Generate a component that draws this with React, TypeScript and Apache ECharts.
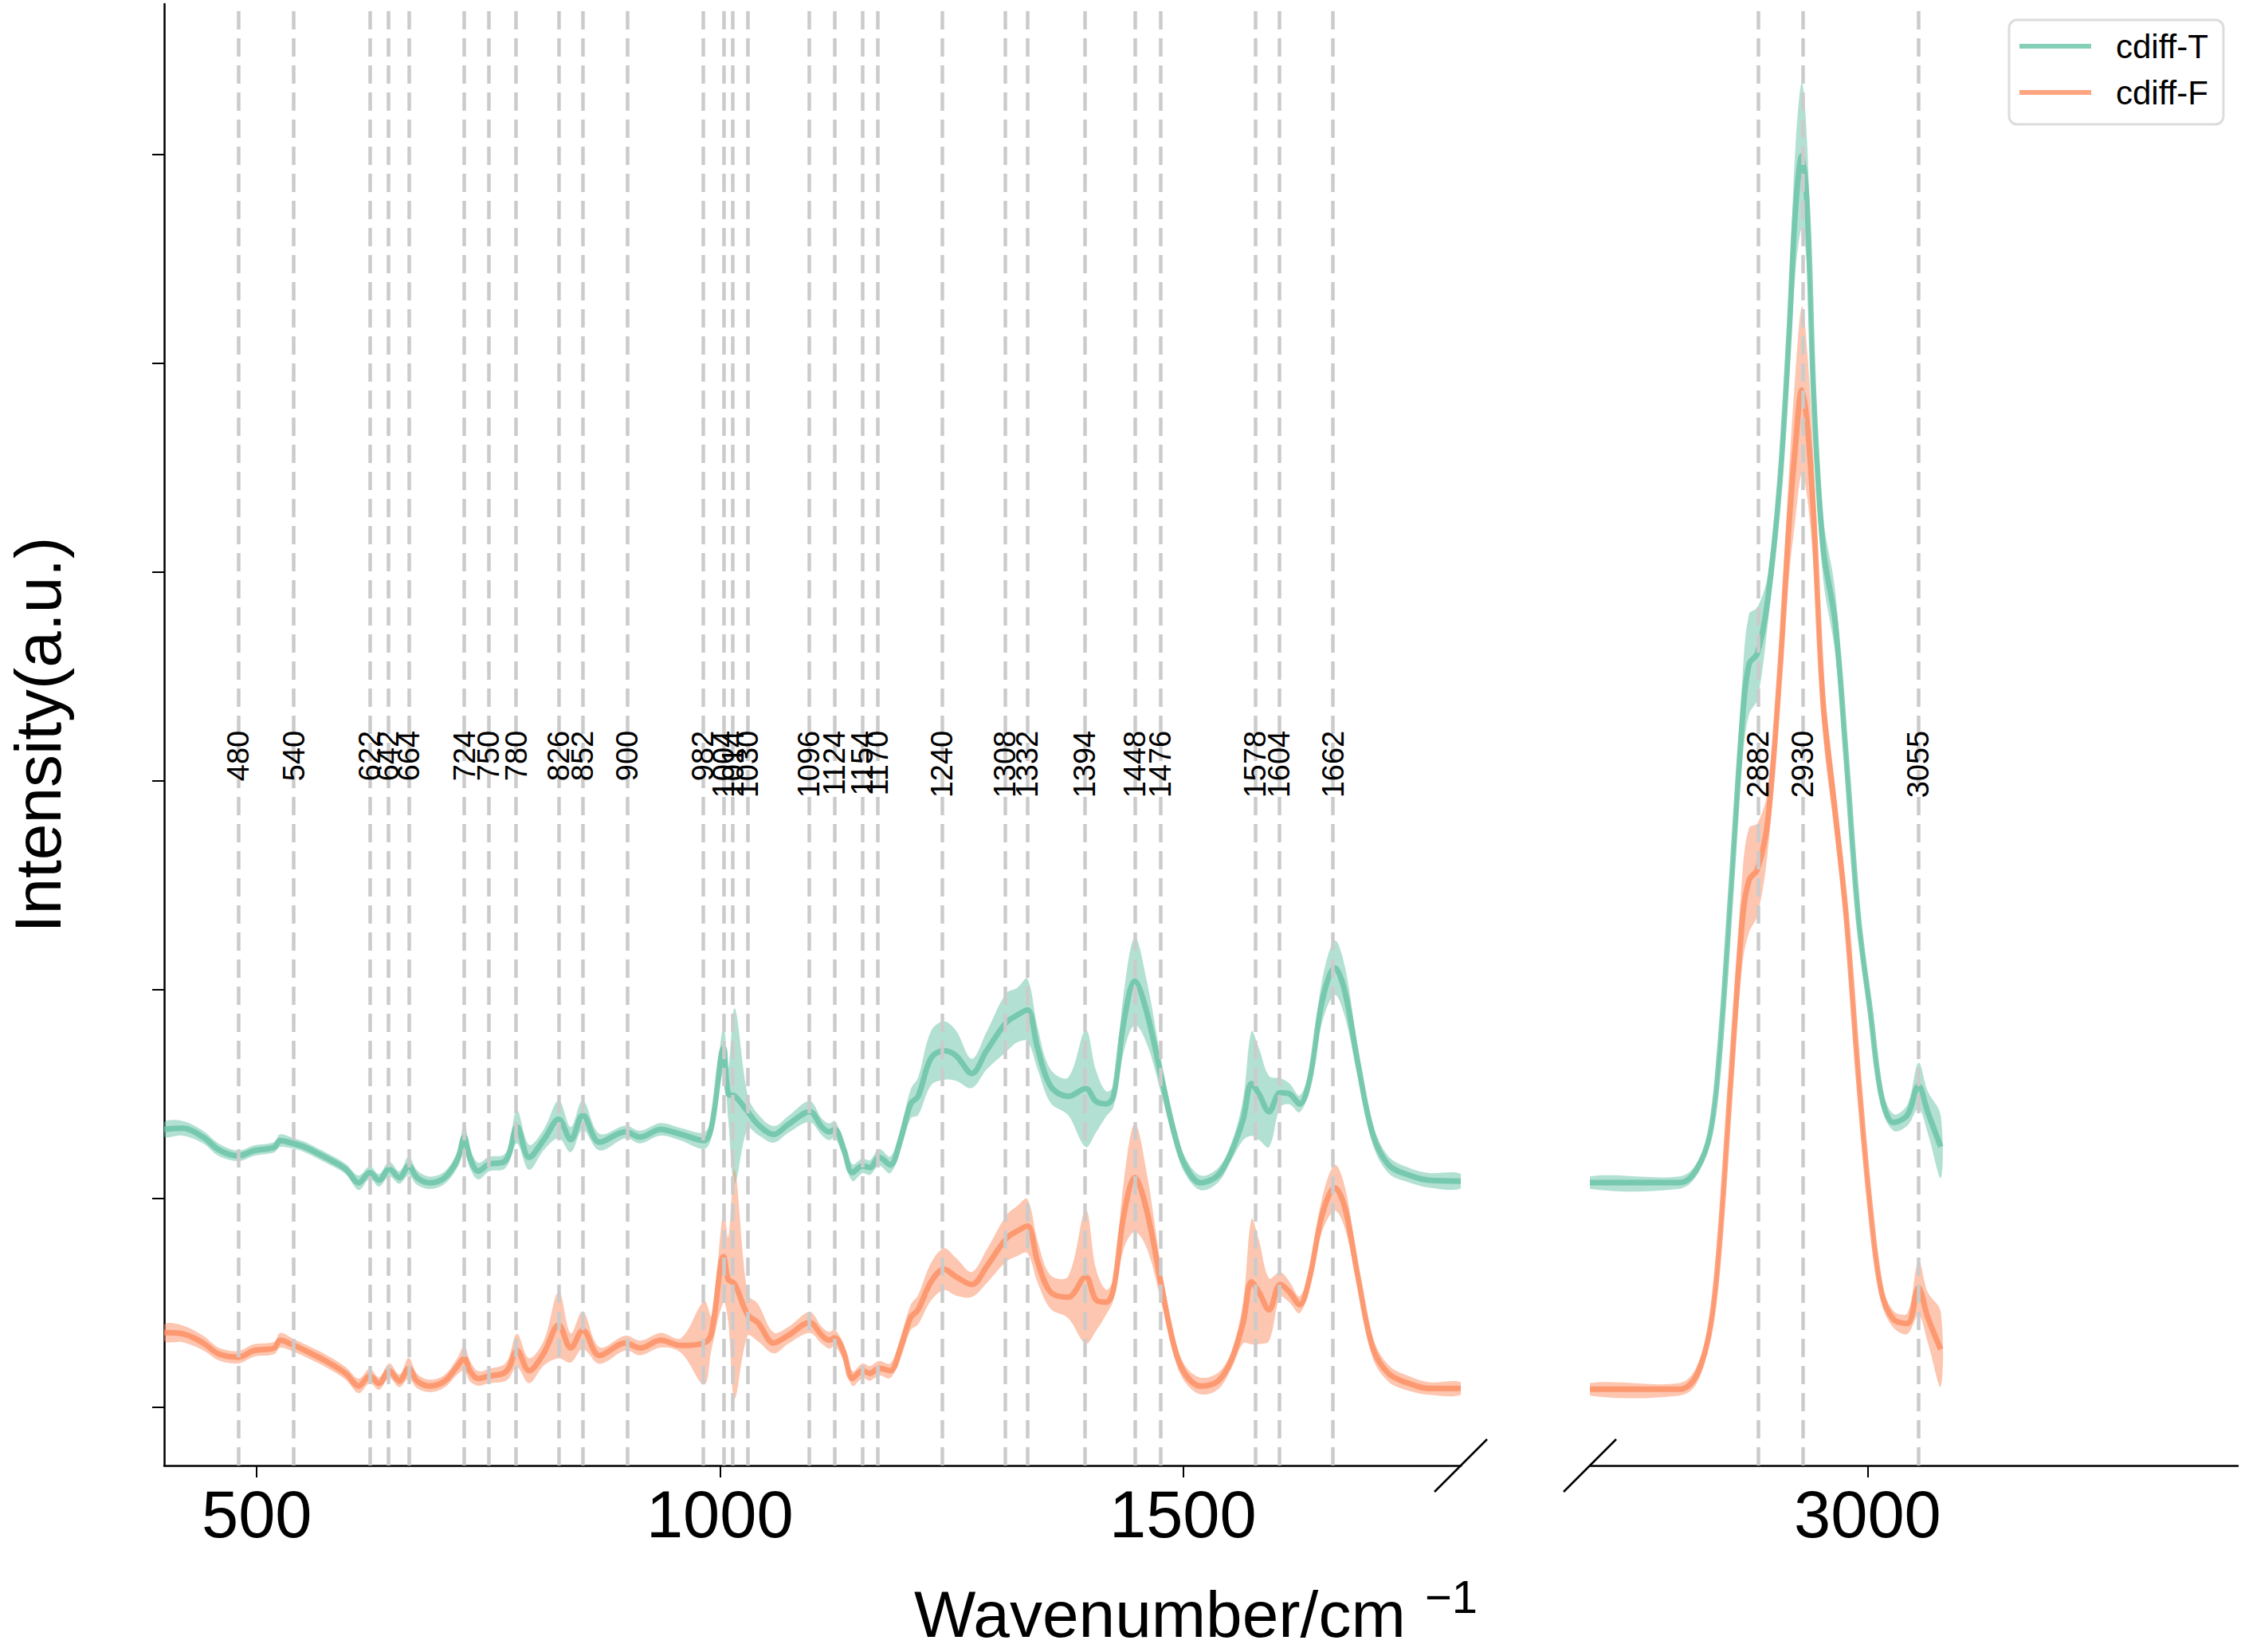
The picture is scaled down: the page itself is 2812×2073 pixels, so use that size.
import React, { useEffect, useRef } from "react";
import * as echarts from "echarts";

// ---------------- data ----------------
const WN_LEFT = [400, 420, 442, 459, 480, 497, 519, 525, 540, 552, 574, 596, 610, 622, 632, 643, 654, 664, 673, 687, 703, 717, 724, 730, 739, 751, 766, 772, 781, 794, 810, 826, 839, 852, 870, 898, 914, 936, 958, 983, 991, 1004, 1009, 1016, 1030, 1041, 1058, 1074, 1097, 1110, 1118, 1124, 1134, 1143, 1154, 1162, 1172, 1184, 1195, 1206, 1214, 1228, 1242, 1255, 1272, 1288, 1309, 1321, 1332, 1343, 1357, 1376, 1395, 1406, 1417, 1425, 1436, 1448, 1461, 1477, 1491, 1502, 1519, 1538, 1552, 1565, 1574, 1582, 1593, 1605, 1615, 1626, 1637, 1650, 1664, 1675, 1689, 1705, 1722, 1744, 1766, 1800];

const T_LEFT = [1.330, 1.335, 1.293, 1.232, 1.203, 1.228, 1.245, 1.276, 1.262, 1.245, 1.196, 1.140, 1.074, 1.123, 1.086, 1.140, 1.099, 1.155, 1.099, 1.074, 1.099, 1.189, 1.293, 1.196, 1.130, 1.164, 1.172, 1.208, 1.342, 1.196, 1.281, 1.378, 1.281, 1.398, 1.269, 1.318, 1.293, 1.330, 1.306, 1.276, 1.342, 1.719, 1.500, 1.490, 1.415, 1.354, 1.306, 1.354, 1.415, 1.342, 1.318, 1.330, 1.232, 1.123, 1.155, 1.147, 1.196, 1.160, 1.281, 1.452, 1.488, 1.671, 1.707, 1.683, 1.598, 1.707, 1.841, 1.877, 1.902, 1.719, 1.537, 1.488, 1.525, 1.464, 1.452, 1.488, 1.841, 2.040, 1.890, 1.573, 1.306, 1.160, 1.074, 1.111, 1.220, 1.378, 1.549, 1.500, 1.415, 1.505, 1.500, 1.452, 1.573, 1.938, 2.104, 1.987, 1.646, 1.306, 1.160, 1.111, 1.086, 1.082];

const T_SD_LEFT = [0.035, 0.035, 0.03, 0.03, 0.025, 0.025, 0.025, 0.03, 0.025, 0.025, 0.025, 0.025, 0.035, 0.03, 0.03, 0.035, 0.03, 0.045, 0.035, 0.03, 0.03, 0.04, 0.07, 0.05, 0.04, 0.035, 0.035, 0.04, 0.08, 0.06, 0.05, 0.09, 0.06, 0.07, 0.04, 0.03, 0.03, 0.03, 0.03, 0.04, 0.05, 0.11, 0.12, 0.42, 0.08, 0.05, 0.04, 0.04, 0.05, 0.04, 0.04, 0.04, 0.04, 0.04, 0.035, 0.035, 0.04, 0.04, 0.05, 0.07, 0.09, 0.13, 0.14, 0.12, 0.07, 0.09, 0.14, 0.13, 0.15, 0.1, 0.08, 0.09, 0.28, 0.15, 0.06, 0.05, 0.14, 0.21, 0.15, 0.08, 0.05, 0.04, 0.035, 0.035, 0.04, 0.1, 0.25, 0.22, 0.17, 0.07, 0.05, 0.04, 0.05, 0.1, 0.13, 0.12, 0.07, 0.05, 0.04, 0.035, 0.035, 0.035];

const F_LEFT = [0.356, 0.351, 0.307, 0.254, 0.239, 0.271, 0.283, 0.320, 0.295, 0.271, 0.222, 0.161, 0.101, 0.149, 0.113, 0.174, 0.125, 0.186, 0.125, 0.101, 0.125, 0.198, 0.234, 0.174, 0.137, 0.149, 0.161, 0.186, 0.271, 0.174, 0.259, 0.393, 0.283, 0.368, 0.247, 0.307, 0.283, 0.320, 0.295, 0.307, 0.356, 0.721, 0.612, 0.590, 0.442, 0.405, 0.307, 0.344, 0.405, 0.344, 0.320, 0.332, 0.259, 0.137, 0.174, 0.161, 0.186, 0.174, 0.283, 0.429, 0.466, 0.600, 0.660, 0.624, 0.587, 0.673, 0.806, 0.843, 0.867, 0.697, 0.551, 0.526, 0.624, 0.514, 0.502, 0.563, 0.916, 1.099, 0.940, 0.575, 0.283, 0.161, 0.101, 0.125, 0.222, 0.405, 0.600, 0.551, 0.466, 0.587, 0.551, 0.490, 0.624, 0.916, 1.050, 0.953, 0.624, 0.283, 0.161, 0.113, 0.089, 0.089];

const F_SD_LEFT = [0.04, 0.04, 0.035, 0.03, 0.03, 0.03, 0.03, 0.035, 0.03, 0.03, 0.03, 0.03, 0.035, 0.035, 0.03, 0.035, 0.03, 0.05, 0.035, 0.03, 0.03, 0.04, 0.06, 0.05, 0.035, 0.035, 0.04, 0.05, 0.08, 0.06, 0.06, 0.16, 0.07, 0.09, 0.04, 0.035, 0.035, 0.035, 0.035, 0.2, 0.08, 0.22, 0.2, 0.55, 0.1, 0.09, 0.05, 0.04, 0.05, 0.04, 0.04, 0.04, 0.04, 0.035, 0.035, 0.035, 0.035, 0.035, 0.05, 0.06, 0.07, 0.09, 0.1, 0.09, 0.06, 0.08, 0.11, 0.12, 0.13, 0.1, 0.08, 0.1, 0.32, 0.15, 0.06, 0.05, 0.16, 0.26, 0.18, 0.08, 0.05, 0.04, 0.04, 0.04, 0.04, 0.1, 0.3, 0.25, 0.15, 0.06, 0.05, 0.04, 0.05, 0.08, 0.11, 0.1, 0.06, 0.05, 0.04, 0.035, 0.03, 0.03];

const WN_RIGHT = [2700, 2797, 2815, 2830, 2840, 2852, 2865, 2872, 2881, 2892, 2905, 2915, 2922, 2929, 2935, 2942, 2952, 2965, 2977, 2990, 3003, 3015, 3028, 3043, 3055, 3065, 3079];
const T_RIGHT = [1.075, 1.075, 1.136, 1.312, 1.691, 2.448, 3.307, 3.559, 3.610, 3.862, 4.417, 5.124, 5.730, 5.993, 5.730, 4.821, 4.115, 3.761, 3.105, 2.347, 1.893, 1.489, 1.363, 1.398, 1.539, 1.413, 1.247];
const T_SD_RIGHT = [0.03, 0.03, 0.03, 0.04, 0.06, 0.1, 0.2, 0.24, 0.22, 0.12, 0.12, 0.2, 0.3, 0.35, 0.3, 0.2, 0.15, 0.15, 0.1, 0.07, 0.06, 0.05, 0.04, 0.05, 0.11, 0.1, 0.15];
const F_RIGHT = [0.085, 0.085, 0.15, 0.38, 0.78, 1.55, 2.347, 2.524, 2.575, 2.802, 3.509, 4.22, 4.6, 4.872, 4.70, 4.25, 3.37, 2.85, 2.347, 1.590, 0.95, 0.55, 0.42, 0.40, 0.570, 0.43, 0.277];
const F_SD_RIGHT = [0.03, 0.03, 0.04, 0.05, 0.08, 0.12, 0.22, 0.25, 0.22, 0.15, 0.15, 0.25, 0.35, 0.4, 0.35, 0.25, 0.15, 0.12, 0.1, 0.08, 0.06, 0.05, 0.04, 0.05, 0.13, 0.12, 0.18];

const PEAKS_LEFT = [480, 540, 622, 642, 664, 724, 750, 780, 826, 852, 900, 982, 1004, 1014, 1030, 1096, 1124, 1154, 1170, 1240, 1308, 1332, 1394, 1448, 1476, 1578, 1604, 1662];
const PEAKS_RIGHT = [2882, 2930, 3055];

const X_TICKS_LEFT = [500, 1000, 1500];
const X_TICKS_RIGHT = [3000];
const Y_TICKS = [0, 1, 2, 3, 4, 5, 6];
const LABEL_Y = 3.24;
const NAMES = ["cdiff-T", "cdiff-F"];

// ---------------- styling ----------------
const FONT = "'Liberation Sans', Arial, Helvetica, sans-serif";
const GREEN = [102, 194, 165];
const ORANGE = [252, 141, 98];
const rgba = (c: number[], a: number) => `rgba(${c[0]},${c[1]},${c[2]},${a})`;
const X_RANGE_LEFT = [400, 1800];
const X_RANGE_RIGHT = [2700, 3400];
const Y_MIN = -0.28;
const Y_MAX = 6.72;
const SMOOTH = 0.35;

const meanPts = (xs: number[], m: number[]) => xs.map((x, i) => [x, m[i]]);

function bandSeries(k: number, key: string, wn: number[], m: number[], s: number[], c: number[]) {
  const table = wn.map((x, i) => [x, m[i] - s[i], m[i] + s[i]]);
  return {
    type: "custom",
    name: `band-${key}-${k}`,
    xAxisIndex: k,
    yAxisIndex: k,
    data: table,
    silent: true,
    clip: true,
    z: 2,
    renderItem: (params: any, api: any) => {
      if (params.dataIndex !== 0) return null;
      const upper = table.map((r) => api.coord([r[0], r[2]]));
      const lower = table.map((r) => api.coord([r[0], r[1]])).reverse();
      return {
        type: "polygon",
        shape: { points: upper.concat(lower), smooth: SMOOTH },
        style: { fill: rgba(c, 0.5) },
      };
    },
  };
}

function panelSeries(k: number, wn: number[], t: number[], tsd: number[], f: number[], fsd: number[], peaks: number[]) {
  const out: any[] = [];
  out.push(bandSeries(k, "T", wn, t, tsd, GREEN));
  out.push(bandSeries(k, "F", wn, f, fsd, ORANGE));
  const groups: [number[], number[]][] = [
    [t, GREEN],
    [f, ORANGE],
  ];
  groups.forEach(([m, c], gi) => {
    const s: any = {
      type: "line",
      name: NAMES[gi],
      xAxisIndex: k,
      yAxisIndex: k,
      data: meanPts(wn, m),
      symbol: "none",
      smooth: SMOOTH,
      color: rgba(c, 0.8),
      itemStyle: { color: rgba(c, 0.8) },
      lineStyle: { width: 7, color: rgba(c, 0.8) },
      silent: true,
      z: 4,
    };
    if (gi === 0) {
      s.markLine = {
        silent: true,
        symbol: ["none", "none"],
        label: { show: false },
        lineStyle: { color: "#cbcbcb", width: 4.5, type: [23, 11] },
        emphasis: { disabled: true },
        data: peaks.map((p) => ({ xAxis: p })),
      };
    }
    out.push(s);
  });
  out.push({
    type: "custom",
    name: `peaklabels-${k}`,
    xAxisIndex: k,
    yAxisIndex: k,
    data: peaks.map((p) => [p, LABEL_Y]),
    silent: true,
    z: 6,
    renderItem: (_params: any, api: any) => {
      const pt = api.coord([api.value(0), api.value(1)]);
      return {
        type: "text",
        x: pt[0],
        y: pt[1],
        rotation: Math.PI / 2,
        style: {
          text: String(api.value(0)),
          fontSize: 38,
          fontFamily: FONT,
          fill: "#000",
          align: "right",
          verticalAlign: "middle",
        },
      };
    },
  });
  return out;
}

function xAxisOf(k: number, range: number[], ticks: number[]) {
  return {
    type: "value",
    gridIndex: k,
    min: range[0],
    max: range[1],
    axisLine: { show: true, onZero: false, lineStyle: { color: "#000", width: 2.5 } },
    axisTick: { show: true, length: 15, lineStyle: { color: "#000", width: 2 }, customValues: ticks },
    axisLabel: {
      show: true,
      customValues: ticks,
      formatter: (v: number) => String(v),
      fontSize: 83,
      fontFamily: FONT,
      color: "#000",
      margin: 20,
    },
    splitLine: { show: false },
  };
}

export default function App() {
  const ref = useRef<HTMLDivElement>(null);
  useEffect(() => {
    document.body.style.margin = "0";
    const chart = echarts.init(ref.current!, undefined, { renderer: "svg" });
    const option: any = {
      animation: false,
      backgroundColor: "#fff",
      grid: [
        { left: 206, top: 5, width: 1627, height: 1834, outerBoundsMode: "none" },
        { left: 1995, top: 5, width: 813, height: 1834, outerBoundsMode: "none" },
      ],
      xAxis: [xAxisOf(0, X_RANGE_LEFT, X_TICKS_LEFT), xAxisOf(1, X_RANGE_RIGHT, X_TICKS_RIGHT)],
      yAxis: [
        {
          type: "value",
          gridIndex: 0,
          min: Y_MIN,
          max: Y_MAX,
          axisLine: { show: true, onZero: false, lineStyle: { color: "#000", width: 2.5 } },
          axisTick: { show: true, length: 15, lineStyle: { color: "#000", width: 2 }, customValues: Y_TICKS },
          axisLabel: { show: false },
          splitLine: { show: false },
        },
        { type: "value", gridIndex: 1, min: Y_MIN, max: Y_MAX, show: false, splitLine: { show: false } },
      ],
      legend: {
        data: NAMES,
        left: 2521,
        top: 25,
        orient: "vertical",
        selectedMode: false,
        icon: "rect",
        itemWidth: 90,
        itemHeight: 6,
        itemGap: 16,
        padding: [12, 19, 19, 13],
        borderColor: "#dcdcdc",
        borderWidth: 3,
        borderRadius: 10,
        backgroundColor: "rgba(255,255,255,0.8)",
        textStyle: { fontSize: 42, lineHeight: 42, fontFamily: FONT, color: "#000", padding: [0, 0, 0, 26] },
      },
      graphic: [
        {
          id: "ytitle",
          type: "text",
          x: 47,
          y: 922,
          rotation: Math.PI / 2,
          style: { text: "Intensity(a.u.)", fontSize: 82, fontFamily: FONT, fill: "#000", align: "center", verticalAlign: "middle" },
        },
        {
          id: "xtitle",
          type: "text",
          x: 1147,
          y: 2025,
          style: { text: "Wavenumber/cm", fontSize: 82, fontFamily: FONT, fill: "#000", align: "left", verticalAlign: "middle" },
        },
        {
          id: "xsup",
          type: "text",
          x: 1788,
          y: 2003,
          style: { text: "\u22121", fontSize: 58, fontFamily: FONT, fill: "#000", align: "left", verticalAlign: "middle" },
        },
      ],
      series: [
        ...panelSeries(0, WN_LEFT, T_LEFT, T_SD_LEFT, F_LEFT, F_SD_LEFT, PEAKS_LEFT),
        ...panelSeries(1, WN_RIGHT, T_RIGHT, T_SD_RIGHT, F_RIGHT, F_SD_RIGHT, PEAKS_RIGHT),
      ],
    };
    chart.setOption(option);
    const p1 = chart.convertToPixel({ xAxisIndex: 0, yAxisIndex: 0 }, [X_RANGE_LEFT[1], Y_MIN]) as number[];
    const p2 = chart.convertToPixel({ xAxisIndex: 1, yAxisIndex: 1 }, [X_RANGE_RIGHT[0], Y_MIN]) as number[];
    const d = 33;
    const brk = (id: string, p: number[]) => ({
      id,
      type: "line",
      shape: { x1: p[0] - d, y1: p[1] + d, x2: p[0] + d, y2: p[1] - d },
      style: { stroke: "#000", lineWidth: 2.5 },
      z: 10,
    });
    chart.setOption({ graphic: [brk("brk1", p1), brk("brk2", p2)] });
    return () => chart.dispose();
  }, []);
  return <div ref={ref} style={{ position: "fixed", left: 0, top: 0, width: 2812, height: 2073 }} />;
}
